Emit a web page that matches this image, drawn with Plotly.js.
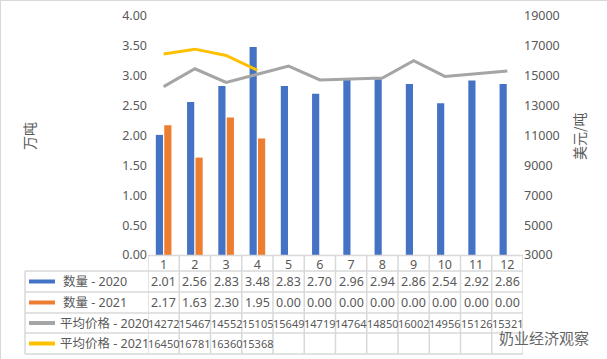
<!DOCTYPE html>
<html><head><meta charset="utf-8">
<script src="https://cdn.plot.ly/plotly-3.0.1.min.js"></script>
<style>html,body{margin:0;padding:0;background:#fff}#c{width:605px;height:357px;border:1px solid #d9d9d9}</style>
</head><body><div id="c"></div>
<script>
const months = [1,2,3,4,5,6,7,8,9,10,11,12];
const qty2020 = [2.01,2.56,2.83,3.48,2.83,2.70,2.96,2.94,2.86,2.54,2.92,2.86];
const qty2021 = [2.17,1.63,2.30,1.95,0,0,0,0,0,0,0,0];
const price2020 = [14272,15467,14552,15105,15649,14719,14764,14850,16002,14956,15126,15321];
const price2021 = [16450,16781,16360,15368];
const seriesNames = ['数量 - 2020','数量 - 2021','平均价格 - 2020','平均价格 - 2021'];
const colors = ['#4472C4','#ED7D31','#A5A5A5','#FFC000'];

const W=607,H=359,L=147,R=522,T=15,B=254;
const px = p => (p-L)/(R-L);
const py = p => (B-p)/(B-T);
const txt = '#595959', grid='#d9d9d9';
const font = '"Noto Sans", "Noto Sans CJK SC", sans-serif';
const cjk = '"Noto Sans CJK SC", sans-serif';

const traces = [
 {type:'bar',x:months,y:qty2020,name:seriesNames[0],marker:{color:colors[0]},yaxis:'y'},
 {type:'bar',x:months,y:qty2021,name:seriesNames[1],marker:{color:colors[1]},yaxis:'y'},
 {type:'scatter',mode:'lines',x:months,y:price2020,name:seriesNames[2],line:{color:colors[2],width:3},yaxis:'y2'},
 {type:'scatter',mode:'lines',x:months.slice(0,price2021.length),y:price2021,name:seriesNames[3],line:{color:colors[3],width:3},yaxis:'y2'}
];

const rowTop=[254,270,291,312,332,353];
const shapes=[], ann=[];
shapes.push({type:'line',xref:'x',yref:'paper',x0:0.5,x1:12.5,y0:py(254.5),y1:py(254.5),line:{color:grid,width:1.5}});
for(let i=1;i<rowTop.length;i++){
  shapes.push({type:'line',xref:'paper',yref:'paper',x0:px(24),x1:1,y0:py(rowTop[i]),y1:py(rowTop[i]),line:{color:grid,width:1.5}});
}
shapes.push({type:'line',xref:'paper',yref:'paper',x0:px(24),x1:px(24),y0:py(270),y1:py(353),line:{color:grid,width:1.5}});
for(let k=0;k<=months.length;k++){
  shapes.push({type:'line',xref:'x',yref:'paper',x0:months[0]-0.5+k,x1:months[0]-0.5+k,y0:py(254),y1:py(353),line:{color:grid,width:1.5}});
}
const rows=[qty2020.map(v=>v.toFixed(2)),qty2021.map(v=>v.toFixed(2)),price2020.map(String),price2021.map(String)];
for(let r=0;r<4;r++){
  const yc=(rowTop[r+1]+rowTop[r+2])/2;
  shapes.push({type:'line',xref:'paper',yref:'paper',x0:px(28),x1:px(54),y0:py(yc),y1:py(yc),line:{color:colors[r],width:4}});
  ann.push({xref:'paper',yref:'paper',x:px(r<2?60:57),y:py(yc),xanchor:'left',yanchor:'middle',showarrow:false,text:seriesNames[r],font:{family:font,size:12.5,color:txt}});
  rows[r].forEach((s,i)=>{
    ann.push({xref:'x',yref:'paper',x:months[i],y:py(yc),xanchor:'center',yanchor:'middle',showarrow:false,text:s,font:{family:font,size:r>=2?11:12.5,color:txt}});
  });
}
ann.push({xref:'paper',yref:'paper',x:px(28),y:py(135),xanchor:'center',yanchor:'middle',textangle:-90,showarrow:false,text:'万吨',font:{family:cjk,size:14,color:txt}});
ann.push({xref:'paper',yref:'paper',x:px(578),y:py(135),xanchor:'center',yanchor:'middle',textangle:-90,showarrow:false,text:'美元/吨',font:{family:cjk,size:14,color:txt}});
ann.push({xref:'paper',yref:'paper',x:px(590),y:py(336),xanchor:'right',yanchor:'middle',showarrow:false,text:'奶业经济观察',font:{family:cjk,size:15,color:'#666'}});

const layout={
  width:W,height:H,margin:{l:L,r:W-R,t:T,b:H-B},
  paper_bgcolor:'#fff',plot_bgcolor:'#fff',showlegend:false,
  barmode:'group',bargap:0.46,bargroupgap:0.15,
  font:{family:font,color:txt,size:12},
  xaxis:{range:[0.5,12.5],tickvals:months,ticktext:months.map(String),showgrid:false,zeroline:false,showline:false,ticks:'',tickfont:{size:12.5,color:txt}},
  yaxis:{range:[0,4],dtick:0.5,tick0:0,tickformat:'.2f',showgrid:false,zeroline:false,showline:false,ticks:'',tickfont:{size:12.5,color:txt}},
  yaxis2:{overlaying:'y',side:'right',range:[3000,19000],dtick:2000,tick0:3000,tickformat:'d',showgrid:false,zeroline:false,showline:false,ticks:'',tickfont:{size:12.5,color:txt}},
  shapes:shapes,annotations:ann
};
Plotly.newPlot('c',traces,layout,{displayModeBar:false,staticPlot:true});
</script></body></html>
